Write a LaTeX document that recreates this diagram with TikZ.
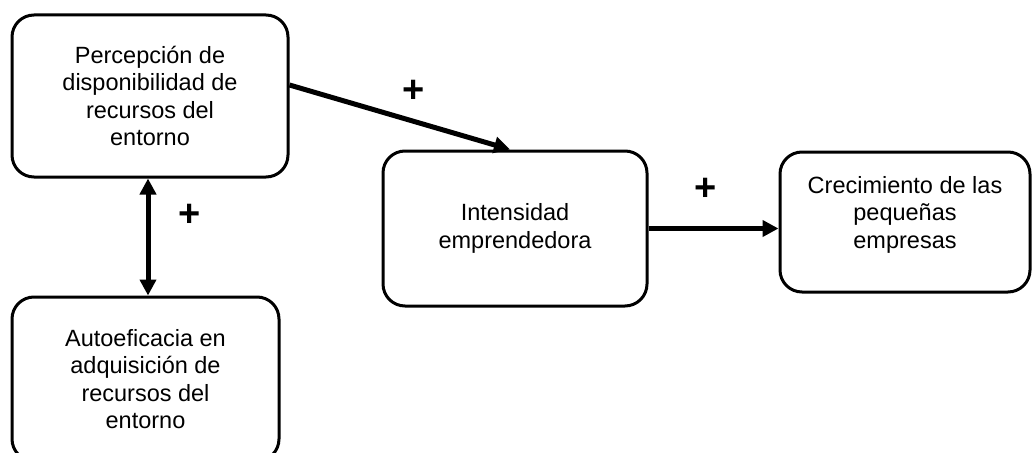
\documentclass[tikz,border=0pt]{standalone}
\usepackage{fontspec}
\setmainfont{Liberation Sans}
\usetikzlibrary{arrows.meta}

\begin{document}
\begin{tikzpicture}[->,>={Triangle[length=16pt,width=16pt]},line width=5pt,node distance=365pt,
  box/.style={draw,line width=3pt,rounded corners=22pt,align=center,inner sep=2pt,
    font=\fontsize{23.5}{27.5}\selectfont},
  sign/.style={font=\fontsize{38}{40}\selectfont\bfseries}]
  \useasboundingbox (0,0) rectangle (1032pt,-452pt);

  \node [box,minimum width=276pt,minimum height=162pt] (0) at (150pt,-96pt) {Percepción de\\disponibilidad de\\recursos del\\entorno};
  \node [box,minimum width=264pt,minimum height=155pt,right of=0,yshift=-132.5pt] (1) {Intensidad\\emprendedora};
  \node [box,minimum width=250pt,minimum height=140pt,text depth=20pt,right of=1,xshift=25pt,yshift=6.5pt] (2) {Crecimiento de las\\pequeñas\\empresas};
  \node [box,minimum width=267pt,minimum height=164pt,below of=0,xshift=-4.5pt,yshift=82pt] (3) {Autoeficacia en\\adquisición de\\recursos del\\entorno};

  \path[->] ([yshift=11pt]0.east) edge node [sign,xshift=14pt,yshift=26pt] {+} ([xshift=-5pt]1.north);
  \path[->] (1.east) edge node [sign,xshift=-8pt,yshift=39pt] {+} (1.east -| 2.west);
  \path[<->] ([xshift=-2pt]0.south) edge node [sign,xshift=42pt,yshift=22pt] {+} ([xshift=2.5pt]3.north);

\end{tikzpicture}
\end{document}
